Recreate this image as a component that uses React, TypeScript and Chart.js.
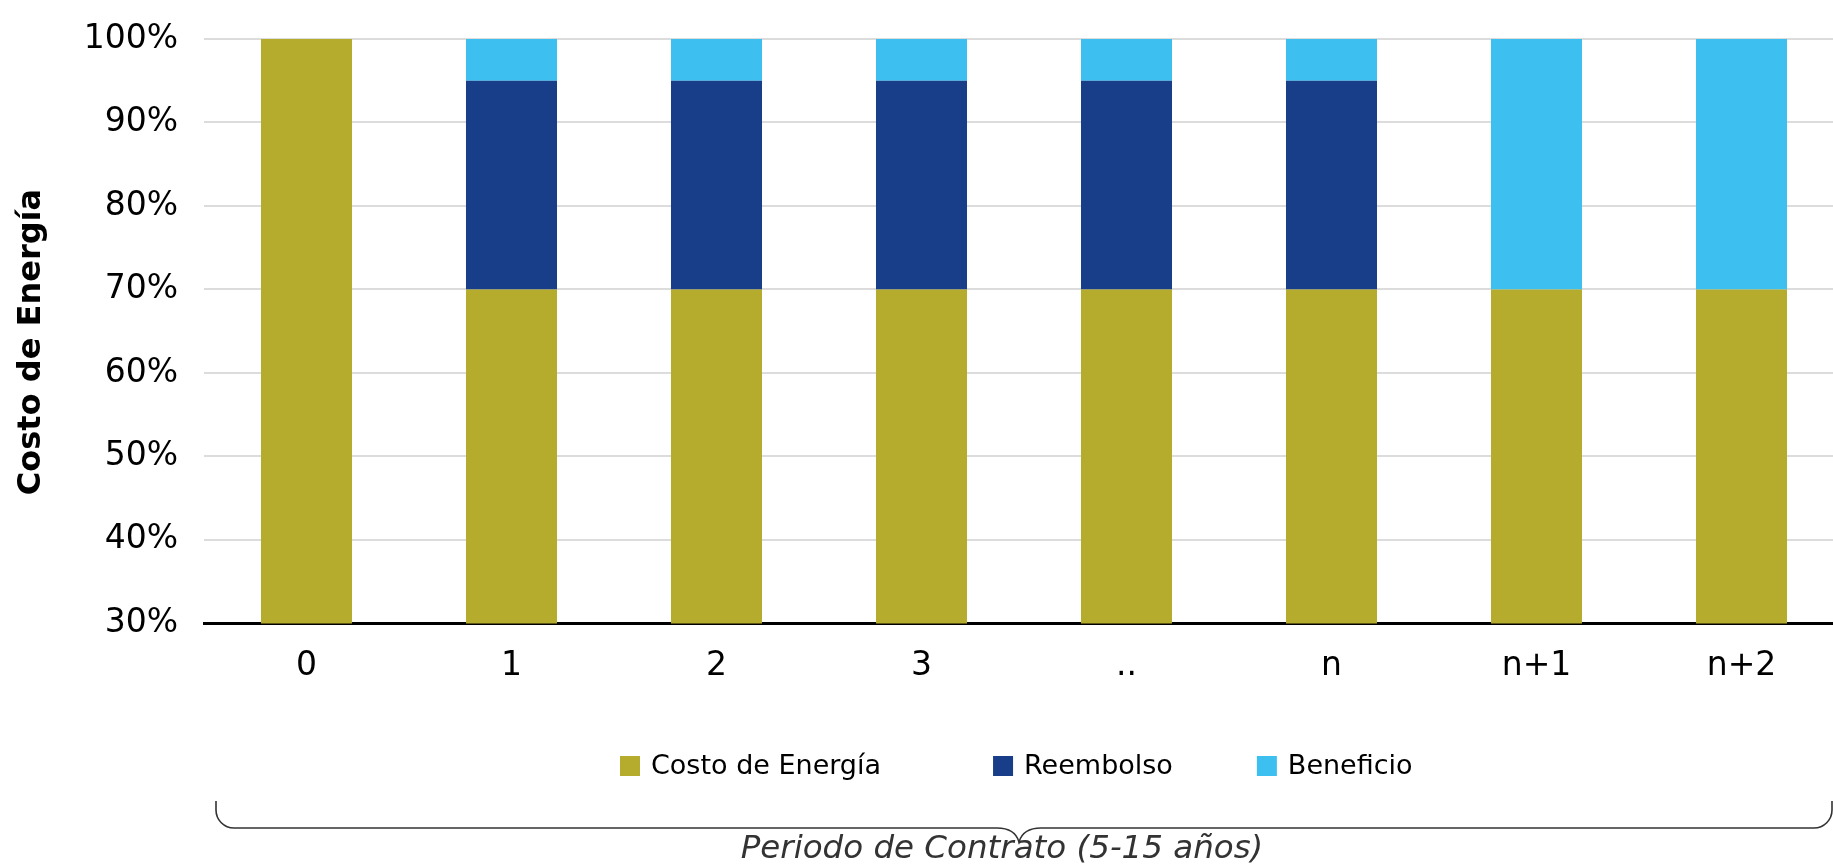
import React, { useEffect, useRef } from "react";
import { Chart, registerables } from "chart.js";

Chart.register(...registerables);

const categories = ["0", "1", "2", "3", "..", "n", "n+1", "n+2"];
const seriesNames = ["Costo de Energía", "Reembolso", "Beneficio"];
const costoEnergia = [100, 70, 70, 70, 70, 70, 70, 70];
const reembolso = [0, 25, 25, 25, 25, 25, 0, 0];
const beneficio = [0, 5, 5, 5, 5, 5, 30, 30];
const yMin = 30;
const yMax = 100;
const yStep = 10;
const yAxisTitle = "Costo de Energía";
const caption = "Periodo de Contrato (5-15 años)";

const colors = ["#B5AB2D", "#183E8A", "#3DBFF0"];
const FONT = '"DejaVu Sans", Verdana, sans-serif';

const customLegend = {
  id: "customLegend",
  afterDraw(chart: any) {
    const ctx = chart.ctx as CanvasRenderingContext2D;
    ctx.save();
    ctx.font = `27px ${FONT}`;
    const box = 20;
    const gapText = 11;
    const gapItems = [112, 84];
    const items = chart.data.datasets.map((ds: any) => ({
      label: ds.label as string,
      color: ds.backgroundColor as string,
      w: box + gapText + ctx.measureText(ds.label).width,
    }));
    let x = 620;
    const y = 766;
    ctx.textBaseline = "middle";
    ctx.textAlign = "left";
    items.forEach((it: any, i: number) => {
      ctx.fillStyle = it.color;
      ctx.fillRect(x, y - box / 2, box, box);
      ctx.fillStyle = "#000";
      ctx.fillText(it.label, x + box + gapText, y + 1);
      x += it.w + (gapItems[i] || 0);
    });
    ctx.restore();
  },
};

const titleAndBracket = {
  id: "titleAndBracket",
  afterDraw(chart: any) {
    const ctx = chart.ctx as CanvasRenderingContext2D;
    const ca = chart.chartArea;

    // y-axis title
    ctx.save();
    ctx.translate(32, 342);
    ctx.rotate(-Math.PI / 2);
    ctx.font = `bold 32px ${FONT}`;
    ctx.fillStyle = "#000";
    ctx.textAlign = "center";
    ctx.textBaseline = "middle";
    ctx.fillText(yAxisTitle, 0, 0);
    ctx.restore();

    // bracket
    const left = 216;
    const right = 1832;
    const top = 801;
    const baseY = 828;
    const r = 18;
    const cusp = (ca.left + ca.right) / 2 - 5;
    const cuspY = 842;
    const cw = 22;
    ctx.save();
    ctx.strokeStyle = "#333333";
    ctx.lineWidth = 1.6;
    ctx.beginPath();
    ctx.moveTo(left, top);
    ctx.lineTo(left, baseY - r);
    ctx.arcTo(left, baseY, left + r, baseY, r);
    ctx.lineTo(cusp - cw, baseY);
    ctx.quadraticCurveTo(cusp - 4, baseY, cusp, cuspY);
    ctx.quadraticCurveTo(cusp + 4, baseY, cusp + cw, baseY);
    ctx.lineTo(right - r, baseY);
    ctx.arcTo(right, baseY, right, baseY - r, r);
    ctx.lineTo(right, top);
    ctx.stroke();

    ctx.font = `italic 32.5px ${FONT}`;
    ctx.fillStyle = "#333333";
    ctx.textAlign = "center";
    ctx.textBaseline = "alphabetic";
    ctx.fillText(caption, cusp - 17, 858);
    ctx.restore();
  },
};

export default function App() {
  const ref = useRef<HTMLCanvasElement>(null);

  useEffect(() => {
    if (!ref.current) return;
    const chart = new Chart(ref.current, {
      type: "bar",
      data: {
        labels: categories,
        datasets: [
          { label: seriesNames[0], data: costoEnergia, backgroundColor: colors[0] },
          { label: seriesNames[1], data: reembolso, backgroundColor: colors[1] },
          { label: seriesNames[2], data: beneficio, backgroundColor: colors[2] },
        ],
      },
      options: {
        animation: false,
        responsive: true,
        maintainAspectRatio: false,
        layout: { padding: { top: 39, left: 0, right: 0, bottom: 156 } },
        datasets: {
          bar: { categoryPercentage: 1, barPercentage: 0.444, borderWidth: 0 },
        },
        plugins: {
          legend: { display: false },
          tooltip: { enabled: false },
        },
        scales: {
          x: {
            stacked: true,
            grid: { display: false, drawTicks: false },
            border: { display: true, color: "#000", width: 3 },
            ticks: { color: "#000", font: { family: FONT, size: 33 }, padding: 23 },
          },
          y: {
            stacked: true,
            min: yMin,
            max: yMax,
            afterFit: (scale: any) => {
              scale.width = 204;
            },
            ticks: {
              stepSize: yStep,
              color: "#000",
              padding: 3,
              font: { family: FONT, size: 33 },
              callback: (v: any) => `${v}%`,
            },
            grid: {
              drawTicks: true,
              tickLength: 23,
              tickColor: "rgba(0,0,0,0)",
              lineWidth: 2,
              color: (c: any) => (c.tick && c.tick.value === yMin ? "rgba(0,0,0,0)" : "#DCDCDC"),
            },
            border: { display: false },
          },
        },
      },
      plugins: [customLegend, titleAndBracket],
    });
    return () => chart.destroy();
  }, []);

  return (
    <div
      style={{
        position: "absolute",
        left: 0,
        top: 0,
        width: 1833,
        height: 865,
        overflow: "hidden",
        background: "#fff",
      }}
    >
      <div style={{ position: "relative", width: 1844, height: 865 }}>
        <canvas ref={ref} />
      </div>
    </div>
  );
}
